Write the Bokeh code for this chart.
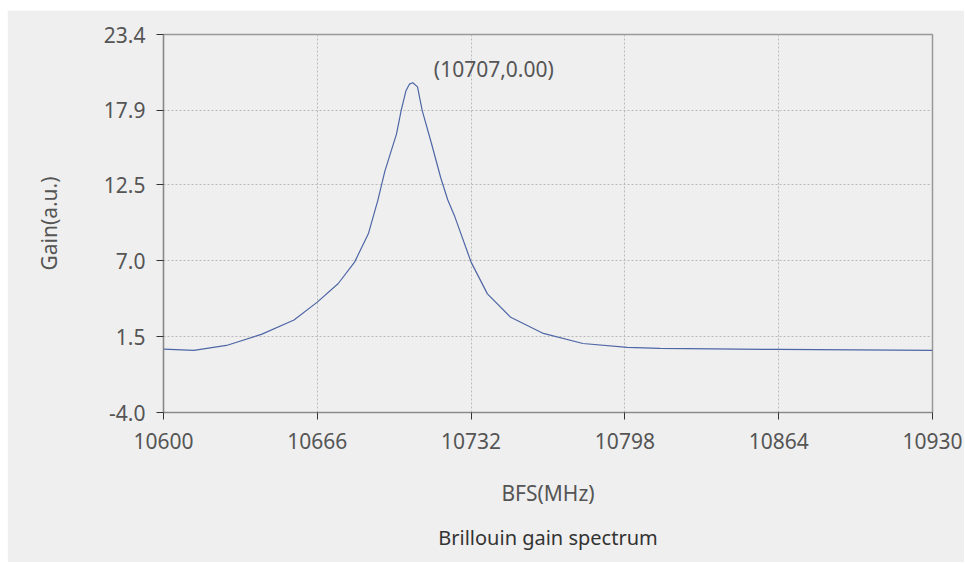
from bokeh.plotting import figure
from bokeh.models import FixedTicker, Label, Title, PrintfTickFormatter
from bokeh.embed import file_html
from bokeh.resources import INLINE

# ---- data ----
bfs = [10600, 10613, 10627, 10642, 10656, 10666, 10675, 10682, 10688, 10692,
       10695, 10700, 10702, 10704, 10705.5, 10707, 10709, 10711, 10715, 10719,
       10722, 10725, 10732, 10739, 10749, 10763, 10780, 10799, 10813, 10864, 10930]
gain = [0.6, 0.5, 0.86, 1.66, 2.7, 4.0, 5.35, 6.9, 9.0, 11.4,
        13.5, 16.2, 17.9, 19.3, 19.8, 19.9, 19.6, 17.9, 15.5, 13.0,
        11.4, 10.2, 6.9, 4.6, 2.9, 1.73, 1.0, 0.72, 0.65, 0.57, 0.5]

x_ticks = [10600, 10666, 10732, 10798, 10864, 10930]
y_ticks = [-4.0, 1.5, 7.0, 12.5, 17.9, 23.4]
peak_x = 10707
peak_y = 19.9
peak_text = "(10707,0.00)"
title_text = "Brillouin gain spectrum"
x_label = "BFS(MHz)"
y_label = "Gain(a.u.)"

FONT = "Noto Sans"
TXT = "#555555"
BG = "#efefef"
FS = "21px"

p = figure(width=957, height=552, output_backend="svg", toolbar_location=None,
           x_range=(x_ticks[0], x_ticks[-1]), y_range=(y_ticks[0], y_ticks[-1]),
           min_border_left=156, min_border_right=32, min_border_top=24,
           min_border_bottom=150)
p.margin = (10, 0, 0, 7)
p.background_fill_color = BG
p.border_fill_color = BG
p.outline_line_color = "#999999"
p.outline_line_width = 1.5

p.line(bfs, gain, line_color="#4e66a6", line_width=1.2)

p.xaxis.ticker = FixedTicker(ticks=x_ticks)
p.yaxis.ticker = FixedTicker(ticks=y_ticks)
p.yaxis.formatter = PrintfTickFormatter(format="%.1f")
p.xaxis.formatter = PrintfTickFormatter(format="%d")

for ax in (p.xaxis[0], p.yaxis[0]):
    ax.axis_line_color = "#888888"
    ax.axis_line_width = 1.2
    ax.major_tick_line_color = "#333333"
    ax.major_tick_in = 0
    ax.major_tick_out = 7
    ax.minor_tick_line_color = None
    ax.major_label_text_font = FONT
    ax.major_label_text_font_size = FS
    ax.major_label_text_color = TXT
    ax.axis_label_text_font = FONT
    ax.axis_label_text_font_size = FS
    ax.axis_label_text_color = TXT
    ax.axis_label_text_font_style = "normal"

p.xaxis.axis_label = x_label
p.yaxis.axis_label = y_label
p.xaxis.major_label_standoff = 13
p.xaxis.axis_label_standoff = 27
p.yaxis.major_label_standoff = 11
p.yaxis.axis_label_standoff = 38

for g in (p.xgrid[0], p.ygrid[0]):
    g.grid_line_color = "#b8b8b8"
    g.grid_line_dash = "2 2"
    g.grid_line_width = 1

p.add_layout(Label(x=peak_x, y=peak_y, text=peak_text, x_offset=21, y_offset=14,
                   text_align="left", text_baseline="middle",
                   text_font=FONT, text_font_size=FS, text_color=TXT))

t = Title(text=title_text, align="center", offset=-47, standoff=24,
          text_font=FONT, text_font_size="20px", text_color="#333333",
          text_font_style="normal")
p.add_layout(t, "below")

open("out.html", "w").write(file_html(p, INLINE))
